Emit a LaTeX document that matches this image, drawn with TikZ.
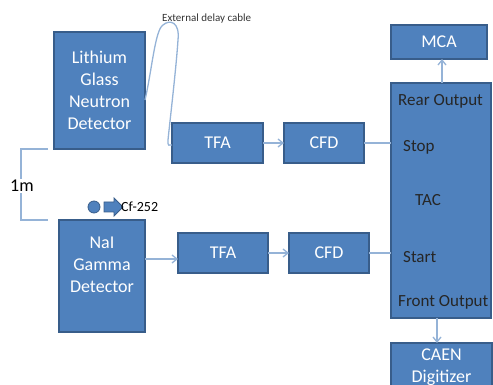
\documentclass[tikz,border=0pt]{standalone}
\usepackage{fontspec}
\setmainfont{Carlito}
\usetikzlibrary{arrows.meta}
\definecolor{boxblue}{HTML}{4F81BD}
\definecolor{boxedge}{HTML}{385D8A}
\definecolor{wire}{HTML}{95B3D7}
\tikzset{
  blk/.style={fill=boxblue, draw=boxedge, line width=1.2pt},
  blktext/.style={text=white, font=\fontsize{18}{22}\selectfont, align=center},
  taclabel/.style={text=black!85, font=\fontsize{17}{21}\selectfont, anchor=west, inner sep=0pt},
  wireline/.style={draw=wire, line width=1.3pt},
  wirearrow/.style={wireline, -{Straight Barb[length=5pt,width=8pt]}},
}
\begin{document}
\begin{tikzpicture}[x=1pt,y=-1pt]
\useasboundingbox (0,0) rectangle (493,385);
\clip (0,0) rectangle (493,385);

% detector and electronics boxes
\draw[blk] (54,32) rectangle (145,149);
\node[blktext] (li) at (99.5,90.5) {Lithium\\Glass\\Neutron\\Detector};
\coordinate (liR) at (145,100);
\coordinate (liB) at (48,149);

\draw[blk] (59,220) rectangle (145,332);
\node[blktext] (nai) at (102,265) {NaI\\Gamma\\Detector};
\coordinate (naiR) at (145,259);
\coordinate (naiT) at (48,220);

\draw[blk] (172,123) rectangle (263,163);
\node[blktext] (tfa1) at (217.5,143) {TFA};
\draw[blk] (284,123) rectangle (364,163);
\node[blktext] (cfd1) at (324,143) {CFD};

\draw[blk] (178,233) rectangle (268,273);
\node[blktext] (tfa2) at (223,253) {TFA};
\draw[blk] (289,233) rectangle (369,273);
\node[blktext] (cfd2) at (329,253) {CFD};

\draw[blk] (391,25) rectangle (487,59);
\node[blktext] (mca) at (439,42) {MCA};

\draw[blk] (391,83) rectangle (491,318);
\node[taclabel] (rear) at (398,101) {Rear Output};
\node[taclabel] (stop) at (403,147) {Stop};
\node[taclabel, anchor=center] (tac) at (428,200) {TAC};
\node[taclabel] (start) at (403,257) {Start};
\node[taclabel] (front) at (398,302) {Front Output};

\draw[blk] (391,343) rectangle (492,420);
\node[blktext] (caen) at (441.5,367) {CAEN\\Digitizer};

% signal connectors
\draw[wirearrow] (263,143) -- (284,143);
\draw[wireline] (364,143) -- (391,143);
\draw[wirearrow] (naiR) -- (178,259);
\draw[wirearrow] (268,253) -- (289,253);
\draw[wireline] (369,253) -- (391,253);
\draw[wirearrow] (442,83) -- (442,59);
\draw[wirearrow] (437,318) -- (437,343);

% delay cable loop
\draw[wireline] (liR) .. controls (152,70) and (155,30) .. (163,25)
  .. controls (170,19) and (180,22) .. (178,40)
  .. controls (176,70) and (170,120) .. (168,140)
  .. controls (167,146) and (170,146) .. (172,145);
\node[font=\fontsize{11}{13}\selectfont, anchor=west, inner sep=0pt, text=black!80] (cable) at (162,19) {External delay cable};

% 1 m spacing bracket
\draw[wireline] (liB) -- (21,149) -- (21,220) -- (naiT);
\node[font=\fontsize{18}{22}\selectfont, fill=white, inner sep=1pt] (dist) at (22,186) {1m};

% Cf-252 source
\fill[boxblue, draw=boxedge, line width=0.8pt] (94,207) circle (6);
\draw[fill=boxblue, draw=boxedge, line width=0.8pt]
  (104,202) -- (114,202) -- (114,198) -- (123,207) -- (114,216) -- (114,212) -- (104,212) -- cycle;
\node[font=\fontsize{14}{16}\selectfont, anchor=west, inner sep=0pt] (cf) at (121,207) {Cf-252};
\end{tikzpicture}
\end{document}
